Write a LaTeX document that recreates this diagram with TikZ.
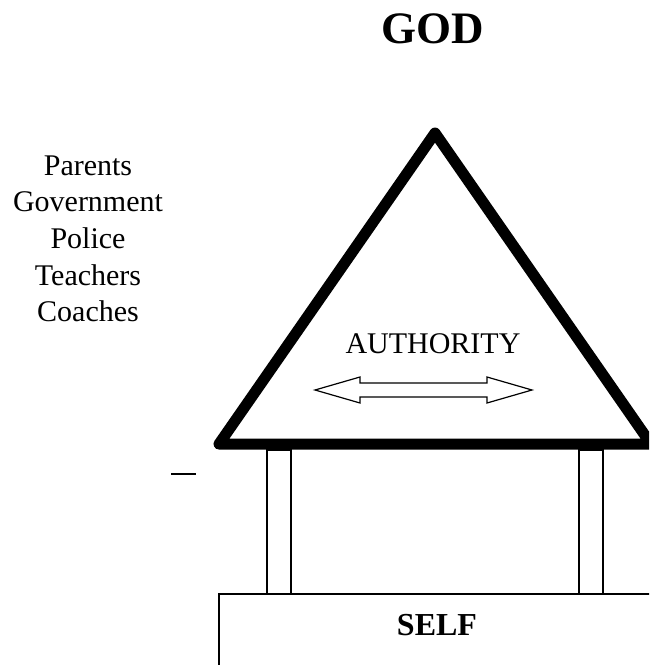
\documentclass[tikz,border=0pt]{standalone}
\usepackage{fontspec}
\setmainfont{Liberation Serif}
\usepackage{tikz}

\begin{document}
\begin{tikzpicture}[x=1pt,y=-1pt,
		label/.style={anchor=base,inner sep=0pt,font=\fontsize{30}{36}\selectfont},
		title/.style={anchor=base,inner sep=0pt,font=\fontsize{45}{54}\selectfont\bfseries},
		post/.style={draw=black,line width=1.4pt}]
	\useasboundingbox (0,0) rectangle (649,665);
	\clip (0,0) rectangle (649,665);

	\node[title] (god) at (433,43) {GOD};
	\foreach \who [count=\i] in {Parents,Government,Police,Teachers,Coaches}
		\node[label] (who\i) at (88,{175+36.7*(\i-1)}) {\who};

	% roof
	\coordinate (top) at (435,133);
	\coordinate (left) at (219,444);
	\coordinate (right) at (651,444);
	\draw[line width=11pt,line join=round] (top) -- (left) -- (right) -- cycle;
	\node[label] (auth) at (433,353) {AUTHORITY};
	\draw[line width=1.2pt,line join=miter]
		(315,390) -- (360,377) -- (360,383) -- (487,383) -- (487,377) -- (532,390)
		-- (487,403) -- (487,397) -- (360,397) -- (360,403) -- cycle;

	% posts and base
	\draw[post] (267,450) rectangle (291,594);
	\draw[post] (579,450) rectangle (603,594);
	\draw[post] (219,680) -- (219,594) -- (660,594);
	\node[title,font=\fontsize{32}{38}\selectfont\bfseries] (self) at (437,635) {SELF};
	\draw[line width=1.2pt] (171,474) -- (196,474);
\end{tikzpicture}
\end{document}
